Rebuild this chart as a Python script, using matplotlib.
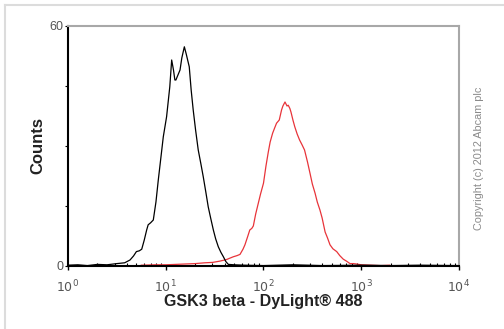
import matplotlib
matplotlib.use("Agg")
import matplotlib.pyplot as plt
from matplotlib.lines import Line2D
from matplotlib.ticker import LogLocator, NullFormatter

plt.rcParams["font.family"] = ["Liberation Sans", "DejaVu Sans"]

# Isotype control (black) and GSK3 beta stained cells (red), counts vs intensity
black_x = [1.0, 1.26, 1.58, 2.0, 2.51, 3.16,
           3.80, 4.31, 4.68, 5.01, 5.37, 5.68, 6.03, 6.38, 6.61, 7.00,
           7.46, 7.94, 8.39, 8.91, 9.44, 10.2, 11.0, 11.5, 12.0, 12.4,
           12.7, 13.2, 14.0, 14.6, 15.5, 16.2, 17.4, 18.2, 19.1, 20.2,
           21.5, 22.9, 24.2, 25.7, 27.2, 28.8, 30.7, 32.4, 34.5, 36.7,
           38.9, 41.2, 43.7, 50.1,
           63.1, 100, 200, 398, 1000, 2000, 3980, 10000]
black_counts = [0.2, 0.3, 0.1, 0.4, 0.3, 0.6,
                0.8, 1.5, 2.5, 3.6, 3.8, 4.2, 6.5, 9, 10.3, 10.8,
                11.5, 16, 21.5, 27, 32.3, 37.3, 44.8, 51.5, 49, 46.5,
                46.5, 47.5, 49, 52, 54.8, 53, 49.8, 44, 39, 34,
                29, 25.5, 22.3, 18.5, 14.8, 12, 9, 6.8, 4.8, 3.4,
                2.3, 1.1, 0.4, 0.3,
                0.2, 0.1, 0.3, 0.1, 0.2, 0.1, 0.2, 0.1]

red_x = [5.62, 7.94, 10, 12.6, 15.8, 20.0, 25.1, 30.2, 35.5, 41.7, 49.0, 53.7, 57.5, 61.7,
         64.6, 69.2, 72.4, 75.9, 78.7, 83.2, 88.5, 93.3, 100, 106, 112, 117, 124, 130,
         136, 145, 153, 158, 166, 174, 179, 186, 191, 200, 209, 221, 234, 248, 263, 282,
         299, 316, 337, 355, 378, 398, 427, 452, 479, 513, 561, 603, 655, 708, 767, 832,
         891, 1000, 1259, 1585, 1950]
red_counts = [0.2, 0.3, 0.3, 0.4, 0.5, 0.6, 0.8, 0.9, 1.2, 1.6, 2.3, 2.6, 2.9, 4.2,
              5.3, 7.5, 9, 9.4, 10, 13, 15.7, 18, 20.7, 25, 28.5, 31, 33.2, 34.5,
              35.7, 36.5, 39, 40, 41, 40, 40.2, 39.4, 38.5, 36.5, 34.8, 33, 31.5, 30.3, 29, 26,
              23.2, 20.5, 18.2, 16, 14, 12, 8.5, 7, 5.3, 4.3, 3.6, 2.6, 1.7, 1.2, 0.6, 0.6,
              0.5, 0.3, 0.2, 0.1, 0.2]

x_ticks = [1, 10, 100, 1000, 10000]
x_labels = ["$10^{0}$", "$10^{1}$", "$10^{2}$", "$10^{3}$", "$10^{4}$"]
y_ticks = [0, 15, 30, 45, 60]
y_labels = ["0", "", "", "", "60"]

fig = plt.figure(figsize=(5.04, 3.29), dpi=100)
ax = fig.add_axes([0.1349, 0.1915, 0.7758, 0.7295])

ax.plot(red_x, red_counts, color="#e8343a", linewidth=0.9)
ax.plot(black_x, black_counts, color="black", linewidth=0.9)

ax.set_xscale("log")
ax.set_xlim(1, 10000)
ax.set_ylim(0, 60)

ax.set_xticks(x_ticks)
ax.set_xticklabels(x_labels)
ax.xaxis.set_minor_locator(LogLocator(base=10, subs=range(2, 10)))
ax.xaxis.set_minor_formatter(NullFormatter())
ax.set_yticks(y_ticks)
ax.set_yticklabels(y_labels)

ax.tick_params(axis="x", which="major", direction="out", length=3, width=1,
               labelsize=9, labelcolor="#555555", pad=6)
ax.tick_params(axis="x", which="minor", direction="in", length=2, width=0.8)
ax.tick_params(axis="y", direction="out", length=2, width=0.8,
               labelsize=9, labelcolor="#555555", pad=1)

for side in ["left", "bottom"]:
    ax.spines[side].set_linewidth(1.5)
    ax.spines[side].set_color("black")
for side in ["top", "right"]:
    ax.spines[side].set_linewidth(1.5)
    ax.spines[side].set_color("#a8a8a8")

ax.set_xlabel("GSK3 beta - DyLight\u00ae 488", fontsize=11.5, fontweight="bold",
              color="#222222")
ax.xaxis.set_label_coords(0.5, -0.115)
ax.set_ylabel("Counts", fontsize=12, fontweight="bold", color="#222222")
ax.yaxis.set_label_coords(-0.0575, 0.504)

fig.text(0.951, 0.52, "Copyright (c) 2012 Abcam plc", rotation=90, fontsize=7.8,
         color="#8a8a8a", ha="center", va="center")

# light frame around the picture
fig.add_artist(Line2D([0.0099, 1.0], [0.985, 0.985], color="#dcdcdc", linewidth=1.5))
fig.add_artist(Line2D([0.0099, 0.0099], [0.0, 0.985], color="#dcdcdc", linewidth=1.5))

fig.savefig("out.png", dpi=100)
